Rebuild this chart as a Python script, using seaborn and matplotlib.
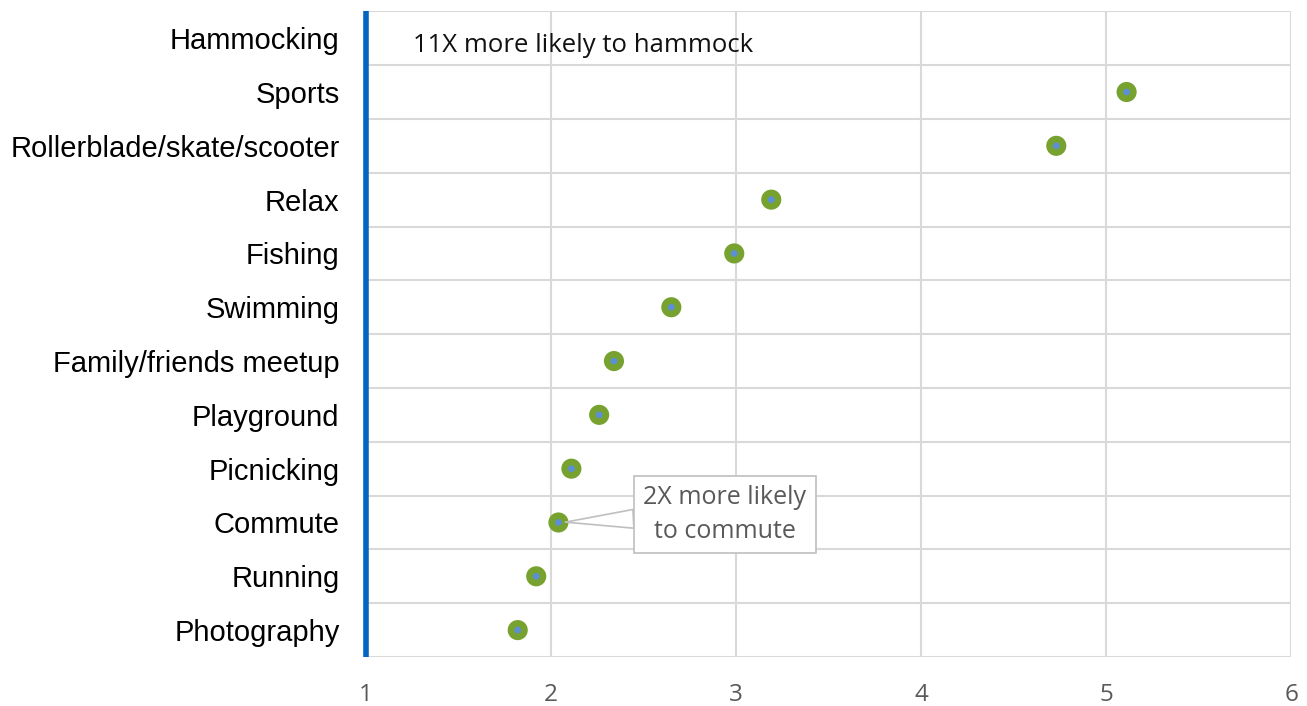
import matplotlib
matplotlib.use("Agg")
import matplotlib.pyplot as plt
import seaborn as sns
import pandas as pd

categories = ["Hammocking", "Sports", "Rollerblade/skate/scooter", "Relax", "Fishing",
              "Swimming", "Family/friends meetup", "Playground", "Picnicking",
              "Commute", "Running", "Photography"]
likelihood = [11.0, 5.11, 4.73, 3.19, 2.99, 2.65, 2.34, 2.26, 2.11, 2.04, 1.92, 1.82]
x_ticks = [1, 2, 3, 4, 5, 6]

df = pd.DataFrame({"activity": categories, "ratio": likelihood})
df["row"] = range(len(df))

sns.set_style("white")
plt.rcParams["font.family"] = ["Liberation Sans", "DejaVu Sans"]

fig = plt.figure(figsize=(13.07, 7.06), dpi=100)
ax = fig.add_axes([0.280, 0.0694, 0.708, 0.9146])

sns.scatterplot(data=df, x="ratio", y="row", ax=ax, s=210, color="#77A22F",
                edgecolor="none", zorder=3, legend=False)
sns.scatterplot(data=df, x="ratio", y="row", ax=ax, s=24, color="#5B8FD6",
                edgecolor="none", zorder=4, legend=False)

ax.set_xlim(1, 6)
ax.set_ylim(len(categories) - 0.5, -0.5)
ax.set_xticks(x_ticks)
ax.set_xticklabels([str(t) for t in x_ticks], fontsize=17.5, color="#595959",
                   family=["Open Sans", "DejaVu Sans"])
ax.set_yticks(range(len(categories)))
ax.set_yticklabels(categories, fontsize=21, color="#000000")
ax.tick_params(axis="x", length=0, pad=19)
ax.tick_params(axis="y", length=0, pad=19)
ax.set_xlabel("")
ax.set_ylabel("")

# grid: vertical at integer ticks, horizontal between category rows
for xv in x_ticks[1:]:
    ax.axvline(xv, color="#D9D9D9", lw=1.5, zorder=0)
for yb in [i - 0.5 for i in range(len(categories) + 1)]:
    ax.axhline(yb, color="#D9D9D9", lw=1.5, zorder=0)

for side in ["top", "right", "bottom"]:
    ax.spines[side].set_visible(False)
ax.spines["left"].set_color("#0563C1")
ax.spines["left"].set_linewidth(4)
ax.spines["left"].set_zorder(5)
ax.spines["left"].set_capstyle("butt")

ax.text(1.254, 0.14, "11X more likely to hammock", fontsize=18.5, color="#111111",
        va="center", ha="left", family=["Open Sans", "DejaVu Sans"])

ax.annotate("2X more likely\nto commute", xy=(2.04, 9), xytext=(2.94, 8.85),
            fontsize=18, color="#595959", ha="center", va="center",
            family=["Open Sans", "DejaVu Sans"], linespacing=1.45,
            bbox=dict(boxstyle="square,pad=0.38", fc="white", ec="#BFBFBF", lw=1.2),
            arrowprops=dict(arrowstyle="wedge,tail_width=0.75,shrink_factor=0.5",
                            fc="white", ec="#BFBFBF", lw=1.2,
                            shrinkA=0, shrinkB=5),
            zorder=6)

fig.savefig("out.png", dpi=100)
